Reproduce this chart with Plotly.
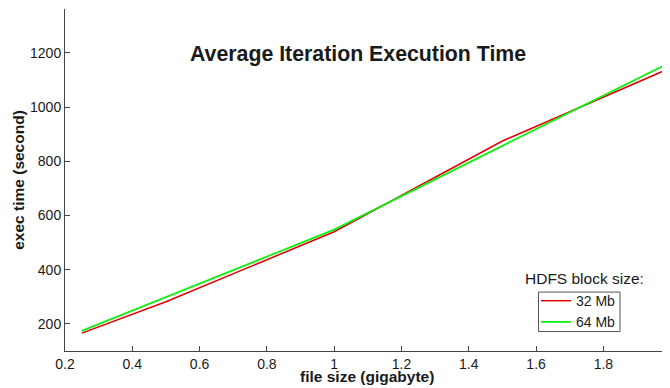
import plotly.graph_objects as go

file_size = [0.25, 0.5, 1.0, 1.5, 2.0]
time_32mb = [166, 282, 540, 875, 1145]
time_64mb = [174, 299, 548, 857, 1166]
series_names = ["32 Mb", "64 Mb"]
x_ticks = [0.2, 0.4, 0.6, 0.8, 1.0, 1.2, 1.4, 1.6, 1.8, 2.0]
x_tick_text = ["0.2", "0.4", "0.6", "0.8", "1", "1.2", "1.4", "1.6", "1.8", "2"]
y_ticks = [200, 400, 600, 800, 1000, 1200]

FONT = "Arial, Liberation Sans, sans-serif"
AX = "#444444"
TXT = "#1a1a1a"

# the page body has an 8px default margin, so the figure is 8px smaller
OFF = 8
W, H = 670 - OFF, 388 - OFF
ML, MR, MT, MB = 65 - OFF, 0, 9 - OFF, 388 - 351.5
PW, PH = W - ML - MR, H - MT - MB


def px_x(p):
    return (p - OFF - ML) / PW


def px_y(p):
    return (H - MB - (p - OFF)) / PH


fig = go.Figure()
fig.add_trace(go.Scatter(x=file_size, y=time_32mb, mode="lines", name=series_names[0],
                         line=dict(color="#e00000", width=1.5)))
fig.add_trace(go.Scatter(x=file_size, y=time_64mb, mode="lines", name=series_names[1],
                         line=dict(color="#11ee11", width=1.8)))
# invisible trace to carry the right-hand tick axis
fig.add_trace(go.Scatter(x=file_size, y=time_64mb, mode="lines", yaxis="y2",
                         line=dict(color="rgba(0,0,0,0)", width=0),
                         showlegend=False, hoverinfo="skip"))

yr = [100, 1362]
fig.update_layout(
    width=W, height=H,
    margin=dict(l=ML, r=MR, t=MT, b=MB, autoexpand=False),
    paper_bgcolor="white", plot_bgcolor="white",
    font=dict(family=FONT, size=14, color=TXT),
    showlegend=True,
    xaxis=dict(range=[0.2, 1.998], tickvals=x_ticks, ticktext=x_tick_text,
               ticks="inside", ticklen=5, tickcolor=AX, tickwidth=1, automargin=False,
               showline=True, linecolor=AX, linewidth=1, showgrid=False, zeroline=False,
               tickfont=dict(size=14, color=TXT)),
    yaxis=dict(range=yr, tickvals=y_ticks, ticks="inside", ticklen=5, tickcolor=AX, tickwidth=1,
               showline=True, linecolor=AX, linewidth=1, showgrid=False, zeroline=False,
               automargin=False, tickfont=dict(size=14, color=TXT)),
    yaxis2=dict(range=yr, tickvals=y_ticks, overlaying="y", side="right", ticks="inside",
                ticklen=5, tickcolor=AX, tickwidth=1, showline=False, showgrid=False,
                zeroline=False, showticklabels=False, automargin=False),
    legend=dict(x=px_x(536), y=px_y(285.5), xanchor="left", yanchor="top",
                bgcolor="rgba(0,0,0,0)", borderwidth=0,
                font=dict(size=14, color=TXT), itemwidth=30, tracegroupgap=0),
    shapes=[
        dict(type="rect", xref="paper", yref="paper",
             x0=px_x(538.5), x1=px_x(620), y0=px_y(332), y1=px_y(292.5),
             line=dict(color="#555555", width=1), fillcolor="rgba(0,0,0,0)", layer="below"),
    ],
    annotations=[
        dict(text="<b>Average Iteration Execution Time</b>", x=1.07, y=1197, xref="x", yref="y",
             showarrow=False, font=dict(size=21.3, color=TXT), xanchor="center", yanchor="middle"),
        dict(text="<b>file size (gigabyte)</b>", x=px_x(366.5), y=px_y(377.5), xref="paper", yref="paper",
             showarrow=False, font=dict(size=15.5, color=TXT), xanchor="center", yanchor="middle"),
        dict(text="<b>exec time (second)</b>", x=px_x(19), y=px_y(180), xref="paper", yref="paper",
             showarrow=False, font=dict(size=15.5, color=TXT), xanchor="center", yanchor="middle",
             textangle=-90),
        dict(text="HDFS block size:", x=px_x(584.5), y=px_y(279),
             xref="paper", yref="paper", showarrow=False, font=dict(size=15.5, color=TXT),
             xanchor="center", yanchor="middle"),
        dict(text="2", x=px_x(672), y=px_y(361), xref="paper", yref="paper", showarrow=False,
             font=dict(size=14, color=TXT), xanchor="center", yanchor="middle"),
    ],
)

fig.write_html("out.html")
